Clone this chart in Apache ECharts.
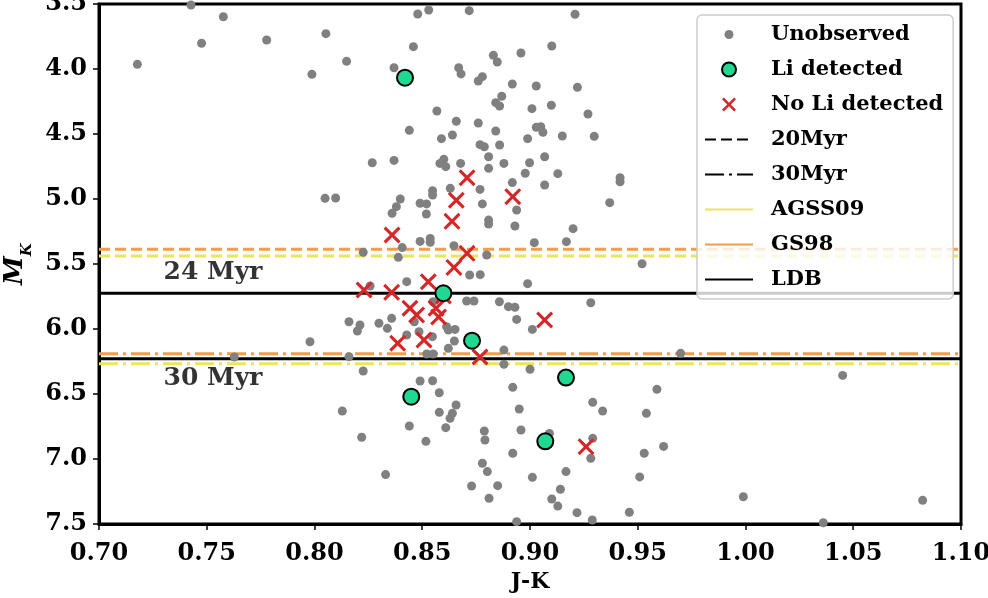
<!DOCTYPE html>
<html>
<head>
<meta charset="utf-8">
<script src="https://cdn.jsdelivr.net/npm/echarts@6/dist/echarts.min.js"></script>
<style>
  html, body { margin: 0; padding: 0; background: #fff; }
  #chart { width: 988px; height: 598px; }
</style>
</head>
<body>
<div id="chart"></div>
<script>
// stars with no spectra, [J-K, M_K]
var unobserved = [
  [0.7427,3.508],[0.7577,3.598],[0.7476,3.802],[0.7778,3.777],[0.7178,3.964],[0.7988,4.041],[0.8053,3.728],[0.8049,4.995],
  [0.8479,3.577],[0.8530,3.546],[0.8718,3.551],[0.9209,3.579],[0.8459,3.828],[0.8149,3.941],[0.8369,3.990],[0.8669,3.990],
  [0.8680,4.038],[0.8830,3.895],[0.8848,3.946],[0.8958,3.877],[0.9101,3.823],[0.8760,4.092],[0.8779,4.059],[0.8918,4.115],
  [0.9029,4.131],[0.9220,4.141],[0.8869,4.210],[0.8841,4.259],[0.8859,4.285],[0.8568,4.323],[0.9009,4.305],[0.9099,4.279],
  [0.9269,4.346],[0.8440,4.472],[0.8658,4.402],[0.8760,4.415],[0.8841,4.477],[0.9029,4.449],[0.9050,4.444],[0.9060,4.487],
  [0.9150,4.515],[0.9298,4.518],[0.8589,4.536],[0.8640,4.508],[0.8989,4.536],[0.8768,4.582],[0.8788,4.598],[0.8859,4.585],
  [0.8808,4.675],[0.9068,4.675],[0.8268,4.721],[0.8369,4.703],[0.8582,4.726],[0.8600,4.695],[0.8609,4.751],[0.8678,4.726],
  [0.8808,4.764],[0.8879,4.726],[0.8998,4.721],[0.8978,4.802],[0.9129,4.805],[0.8918,4.874],[0.9068,4.892],[0.9418,4.836],
  [0.9418,4.867],[0.8768,4.926],[0.8098,4.992],[0.8398,5.000],[0.8380,5.059],[0.8360,5.110],[0.8548,4.936],[0.8548,4.969],
  [0.8490,5.033],[0.8520,5.038],[0.8519,5.115],[0.8630,4.918],[0.8779,5.038],[0.8938,5.085],[0.9370,5.028],[0.8808,5.162],
  [0.8808,5.192],[0.8930,5.208],[0.9200,5.228],[0.9169,5.328],[0.9020,5.336],[0.8490,5.326],[0.8537,5.303],[0.8537,5.333],
  [0.8647,5.359],[0.8226,5.410],[0.8407,5.374],[0.8389,5.449],[0.8799,5.431],[0.8720,5.585],[0.8769,5.582],[0.8428,5.636],
  [0.8989,5.651],[0.8258,5.669],[0.9520,5.498],
  [0.8706,5.785],[0.8740,5.785],[0.8858,5.790],[0.8900,5.828],[0.8930,5.833],[0.9282,5.798],[0.8938,5.926],[0.9011,6.003],
  [0.8160,5.944],[0.8211,5.969],[0.8199,6.015],[0.8299,5.956],[0.8338,5.995],[0.8358,5.918],[0.8463,5.944],[0.8613,5.982],
  [0.8621,6.008],[0.8652,6.003],[0.8428,6.046],[0.8485,6.021],[0.8547,6.059],[0.8649,6.092],[0.8621,6.149],[0.7979,6.098],
  [0.8160,6.213],[0.8521,6.192],[0.8551,6.192],[0.8879,6.162],[0.8879,6.272],[0.9000,6.310],[0.8226,6.323],[0.8490,6.400],
  [0.8548,6.398],[0.8579,6.490],[0.8920,6.449],[0.9291,6.564],[0.9337,6.631],[0.8129,6.631],[0.8657,6.585],[0.8640,6.649],
  [0.8629,6.687],[0.8579,6.641],[0.8609,6.759],[0.8440,6.746],[0.8950,6.615],[0.8958,6.777],[0.8788,6.785],[0.8791,6.854],
  [0.8219,6.833],[0.8517,6.864],[0.9090,6.803],[0.8920,6.956],[0.9291,6.841],[0.9282,6.995],[0.8779,7.033],[0.8802,7.097],
  [0.9167,7.097],[0.8330,7.120],[0.9011,7.141],[0.8729,7.208],[0.8850,7.205],[0.8810,7.302],[0.9141,7.233],[0.9101,7.308],
  [0.9129,7.362],[0.9218,7.413],[0.9289,7.469],[0.8938,7.482],[0.9461,7.410],[0.8550,5.790],
  [0.9699,6.187],[0.9589,6.464],[0.9540,6.649],[0.9620,6.903],[0.9530,6.956],[0.9509,7.138],
  [1.0451,6.357],[0.9990,7.290],[1.0361,7.490],[1.0822,7.318],[0.7628,6.215]
]
var liDetected = [
  [0.8420,4.067],[0.8598,5.725],[0.8731,6.090],[0.9167,6.374],[0.8449,6.521],[0.9071,6.864]
]
var noLi = [
  [0.8708,4.836],[0.8920,4.982],[0.8658,5.010],[0.8638,5.172],[0.8360,5.277],[0.8708,5.418],[0.8647,5.526],
  [0.8528,5.636],[0.8230,5.700],[0.8358,5.718],[0.8598,5.746],[0.8443,5.841],[0.8474,5.892],[0.8564,5.841],
  [0.8576,5.908],[0.8386,6.110],[0.8508,6.085],[0.8768,6.215],[0.9068,5.931],[0.9260,6.905]
]
// lithium depletion boundary, index 0 = 20Myr isochrone, 1 = 30Myr
var agss09 = [5.438, 6.267]
var gs98 = [5.387, 6.190]
var ldb = [5.725, 6.228]
var ldbAges = ['24 Myr', '30 Myr']
var ldbLabelJK = [0.7529, 0.7529]
var ldbLabelMK = [5.569, 6.377]
var xTicks = [0.70, 0.75, 0.80, 0.85, 0.90, 0.95, 1.00, 1.05, 1.10]
var yTicks = [3.5, 4.0, 4.5, 5.0, 5.5, 6.0, 6.5, 7.0, 7.5]

var FONT = 'DejaVu Serif'
var ORANGE = '#f39c4a'
var YELLOW = '#ece45c'
var DASH = [11, 5]
var DASHDOT = [19, 5, 3, 5]
var xMin = xTicks[0], xMax = xTicks[xTicks.length - 1]

var cross = 'path://M0,1.3L1.3,0L5,3.7L8.7,0L10,1.3L6.3,5L10,8.7L8.7,10L5,6.3L1.3,10L0,8.7L3.7,5Z'
var smallDot = 'path://M0,0L0,0M14,14L14,14M2.5,7A4.5,4.5,0,1,1,11.5,7A4.5,4.5,0,1,1,2.5,7Z'

function hline(name, y, color, type) {
  return {
    name: name, type: 'line', symbol: 'none', silent: true, z: 1,
    data: [[xMin, y], [xMax, y]],
    lineStyle: { color: color, width: 3, type: type }
  }
}
// legend-only entries
function legendLine(name, color, type) {
  return {
    name: name, type: 'line', symbol: 'none', showSymbol: false, data: [['-', '-']],
    itemStyle: { color: color }, lineStyle: { color: color, width: 3, type: type }
  }
}
// line entries in the legend: hide the symbol dot, keep the stroke
function lineKey(name) {
  return { name: name, itemStyle: { opacity: 0 } }
}

var series = [
  hline('AGSS09 20', agss09[0], YELLOW, DASH),
  hline('GS98 20', gs98[0], ORANGE, DASH),
  hline('AGSS09 30', agss09[1], YELLOW, DASHDOT),
  hline('GS98 30', gs98[1], ORANGE, DASHDOT),
  hline('LDB 24', ldb[0], '#000', 'solid'),
  hline('LDB 30', ldb[1], '#000', 'solid'),
  legendLine('20Myr', '#000', DASH),
  legendLine('30Myr', '#000', DASHDOT),
  legendLine('AGSS09', YELLOW, 'solid'),
  legendLine('GS98', ORANGE, 'solid'),
  legendLine('LDB', '#000', 'solid'),
  {
    name: 'Unobserved', type: 'scatter', z: 3, symbolSize: 9,
    data: unobserved, itemStyle: { color: '#808080', opacity: 1 }
  },
  {
    name: 'No Li detected', type: 'scatter', z: 4, symbol: cross, symbolSize: 17,
    data: noLi, itemStyle: { color: '#d62728', opacity: 1 }
  },
  {
    name: 'Li detected', type: 'scatter', z: 5, symbolSize: 16,
    data: liDetected, itemStyle: { color: '#1fd892', borderColor: '#000', borderWidth: 2, opacity: 1 }
  },
  {
    name: 'ages', type: 'scatter', z: 6, symbolSize: 0, silent: true,
    data: ldbAges.map(function (a, i) { return { name: a, value: [ldbLabelJK[i], ldbLabelMK[i]] } }),
    label: {
      show: true, position: 'inside', formatter: '{b}', color: '#000',
      fontFamily: FONT, fontWeight: 'bold', fontSize: 25
    }
  }
]

var chart = echarts.init(document.getElementById('chart'))
chart.setOption({
  animation: false,
  textStyle: { fontFamily: FONT },
  grid: {
    left: 99, right: 27, top: 4, bottom: 74, outerBoundsMode: 'none', containLabel: false,
    show: true, borderColor: '#000', borderWidth: 3, backgroundColor: '#fff'
  },
  legend: {
    orient: 'vertical', left: 697, top: 15,
    padding: [9, 10, 9, 7], itemGap: 14, itemWidth: 48, itemHeight: 14,
    backgroundColor: 'rgba(255,255,255,0.8)', borderColor: '#ccc', borderWidth: 1.5, borderRadius: 5,
    selectedMode: false,
    textStyle: { fontFamily: FONT, fontWeight: 'bold', fontSize: 21, lineHeight: 20, color: '#000', padding: [0, 0, 0, 13] },
    data: [
      { name: 'Unobserved', icon: smallDot },
      { name: 'Li detected', icon: 'circle' },
      { name: 'No Li detected', icon: cross },
      lineKey('20Myr'), lineKey('30Myr'), lineKey('AGSS09'), lineKey('GS98'), lineKey('LDB')
    ]
  },
  xAxis: {
    type: 'value', min: xMin, max: xMax, interval: 0.05,
    name: 'J-K', nameLocation: 'middle', nameGap: 47,
    nameTextStyle: { fontFamily: FONT, fontWeight: 'bold', fontSize: 22, color: '#000' },
    axisLine: { lineStyle: { color: '#000', width: 3 } },
    axisTick: { show: true, length: 6, lineStyle: { color: '#000', width: 1.5 } },
    splitLine: { show: false },
    axisLabel: {
      margin: 18, color: '#000', fontWeight: 'bold', fontSize: 24,
      formatter: function (v) { return v.toFixed(2) }
    }
  },
  yAxis: {
    type: 'value', inverse: true, min: yTicks[0], max: yTicks[yTicks.length - 1], interval: 0.5,
    name: '{m|M}{k|K}', nameLocation: 'middle', nameGap: 68,
    nameTextStyle: {
      rich: {
        m: { fontFamily: FONT, fontStyle: 'italic', fontWeight: 'bold', fontSize: 26, color: '#000' },
        k: { fontFamily: FONT, fontStyle: 'italic', fontWeight: 'bold', fontSize: 15, color: '#000', verticalAlign: 'bottom', padding: [0, 0, -6, 0] }
      }
    },
    axisLine: { lineStyle: { color: '#000', width: 3 } },
    axisTick: { show: true, length: 6, lineStyle: { color: '#000', width: 1.5 } },
    splitLine: { show: false },
    axisLabel: {
      margin: 12, color: '#000', fontWeight: 'bold', fontSize: 24,
      formatter: function (v) { return v.toFixed(1) }
    }
  },
  series: series
})
</script>
</body>
</html>
